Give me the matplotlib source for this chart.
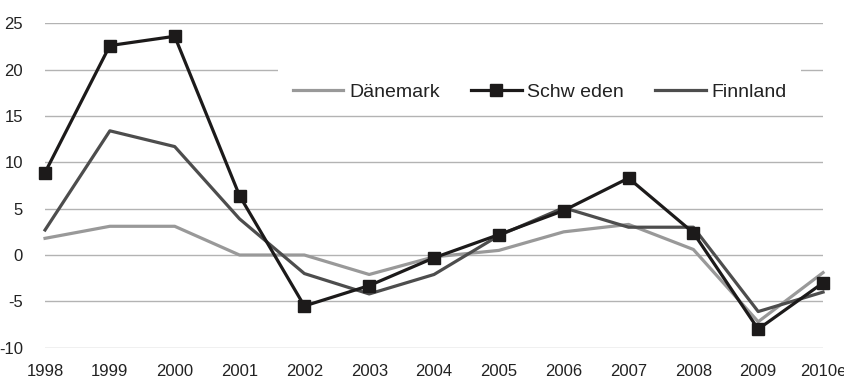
import matplotlib
matplotlib.use("Agg")
import matplotlib.pyplot as plt

plt.rcParams['font.family'] = ['Liberation Sans', 'DejaVu Sans']

years = ["1998", "1999", "2000", "2001", "2002", "2003", "2004",
         "2005", "2006", "2007", "2008", "2009", "2010e"]
daenemark = [1.8, 3.1, 3.1, 0.0, 0.0, -2.1, -0.2, 0.5, 2.5, 3.3, 0.6, -7.2, -1.9]
schweden = [8.9, 22.6, 23.6, 6.4, -5.5, -3.3, -0.3, 2.2, 4.8, 8.3, 2.4, -8.0, -3.0]
finnland = [2.7, 13.4, 11.7, 3.9, -2.0, -4.2, -2.1, 2.1, 5.1, 3.0, 3.0, -6.1, -4.0]
y_ticks = [-10, -5, 0, 5, 10, 15, 20, 25]

fig = plt.figure(figsize=(8.45, 3.81), dpi=100)
ax = fig.add_axes([0.0533, 0.0874, 0.9207, 0.8514])

x = list(range(len(years)))
ax.plot(x, daenemark, color="#999999", lw=2.3, label="Dänemark", zorder=3,
        clip_on=False)
ax.plot(x, schweden, color="#1c1a1a", lw=2.3, marker="s", markersize=8,
        label="Schw eden", zorder=4, clip_on=False)
ax.plot(x, finnland, color="#4d4d4d", lw=2.3, label="Finnland", zorder=3,
        clip_on=False)

ax.set_xlim(0, len(years) - 1)
ax.set_ylim(-10, 25)
ax.set_yticks(y_ticks)
ax.set_yticklabels([str(v) for v in y_ticks])
ax.set_xticks(x)
ax.set_xticklabels(years)
ax.grid(axis="y", color="#b3b3b3", lw=1)
ax.set_axisbelow(True)
for s in ax.spines.values():
    s.set_visible(False)
ax.tick_params(length=0, labelsize=12, colors="#222222")
ax.tick_params(axis="y", pad=16)
ax.tick_params(axis="x", pad=12)

leg = ax.legend(loc="center", bbox_to_anchor=(0.636, 0.789), ncol=3,
                fontsize=14, handlelength=2.6, handletextpad=0.3,
                columnspacing=1.6, borderpad=0.75, frameon=True,
                fancybox=False, framealpha=1, edgecolor="none",
                facecolor="white")
leg.set_zorder(2)
for t in leg.get_texts():
    t.set_color("#222222")

fig.savefig("out.png", dpi=100)
